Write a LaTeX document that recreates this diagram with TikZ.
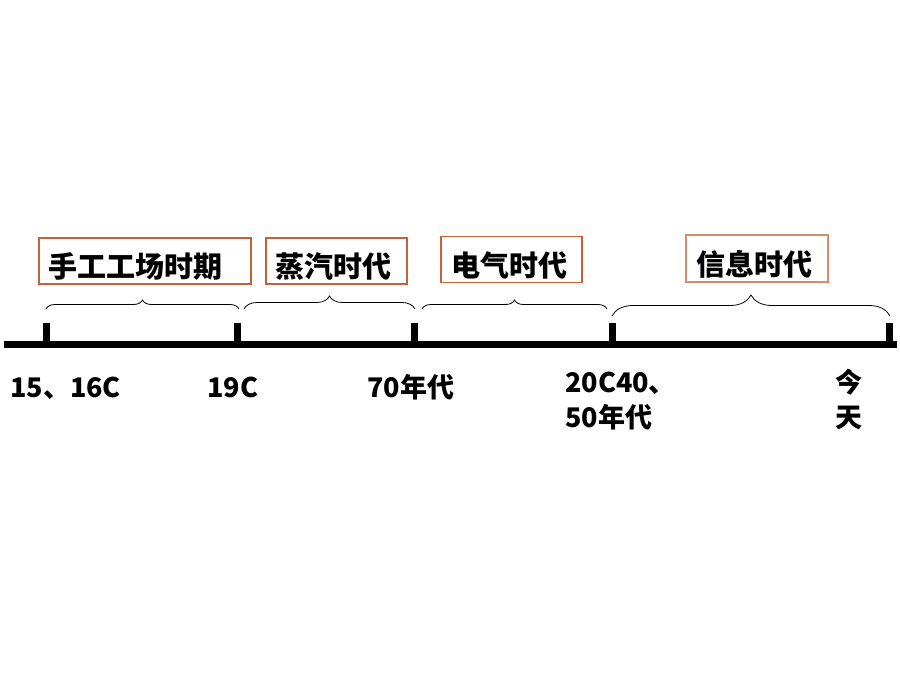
\documentclass[tikz,border=0pt]{standalone}
\usepackage{fontspec}
\newfontfamily\cjk{Noto Sans CJK SC}
\usetikzlibrary{decorations.pathreplacing}
\definecolor{boxline}{RGB}{196,96,58}
\definecolor{boxlight}{RGB}{212,140,110}
\tikzset{
  era/.style={draw=boxline, line width=1.2pt, inner sep=0pt, minimum height=46pt,
    text height=37pt, text depth=4pt, align=left, font=\cjk\bfseries\fontsize{29}{29}\selectfont},
  datelabel/.style={inner sep=0pt, align=left, font=\cjk\bfseries\fontsize{27}{35}\selectfont},
  span/.style={decorate, decoration={brace, amplitude=13pt}, line width=0.8pt}
}
\begin{document}
\begin{tikzpicture}[x=1pt, y=-1pt]
\useasboundingbox[fill=white] (0,0) rectangle (900,675);
% time axis
\coordinate (L) at (4,344);
\coordinate (R) at (897,344);
\draw[line width=7pt] (L)--(R);
\foreach \i/\x in {1/46.5,2/237,3/414.5,4/612,5/889.5}
{
    \coordinate (t\i) at (\x,344);
    \draw[line width=7pt] (t\i)--++(0,-21);
}
% braces over the eras
\coordinate (b1) at (46,309);
\coordinate (b2) at (239,309);
\coordinate (b3) at (244,309);
\coordinate (b4) at (415,309);
\coordinate (b5) at (422,309);
\coordinate (b6) at (607,309);
\coordinate (b7) at (612,316);
\coordinate (b8) at (890,316);
\draw[span, decoration={amplitude=9pt}] (b1)--(b2);
\draw[span] (b3)--(b4);
\draw[span, decoration={amplitude=9pt}] (b5)--(b6);
\draw[span, decoration={amplitude=21pt}] (b7)--(b8);
% era boxes
\node[era, minimum width=212pt, text width=194pt] (handwork) at (145,261) {手工工场时期};
\node[era, minimum width=141pt, text width=123pt] (steam) at (336.5,261) {蒸汽时代};
\node[era, minimum width=141pt, text width=121pt] (electric) at (511.5,259.5) {电气时代};
\node[era, draw=boxlight, minimum width=142pt, text width=122pt, minimum height=47pt] (info) at (757,258.5) {信息时代};
% dates under the axis
\node[datelabel, anchor=base west] (d1) at (10,397) {15、16C};
\node[datelabel, anchor=base west] (d2) at (207,397) {19C};
\node[datelabel, anchor=base west] (d3) at (367,397) {70年代};
\node[datelabel, anchor=base west] (d4) at (565,427) {20C40、\\50年代};
\node[datelabel, anchor=base, align=center] (d5) at (849,427) {今\\天};
\end{tikzpicture}
\end{document}
